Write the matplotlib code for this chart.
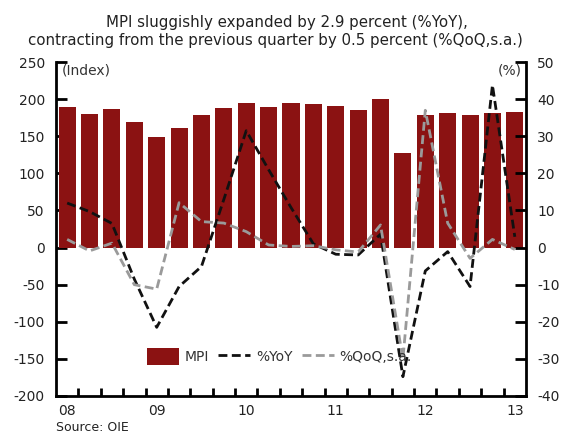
import numpy as np
import matplotlib.pyplot as plt

plt.rcParams["axes.unicode_minus"] = False

# quarterly data, 2008Q1 .. 2013Q1
quarters = ["08Q1", "08Q2", "08Q3", "08Q4", "09Q1", "09Q2", "09Q3", "09Q4",
            "10Q1", "10Q2", "10Q3", "10Q4", "11Q1", "11Q2", "11Q3", "11Q4",
            "12Q1", "12Q2", "12Q3", "12Q4", "13Q1"]
mpi = [190, 180, 187, 169, 149, 161, 178, 188, 194.5, 189, 194.5, 193,
       191, 185, 200, 127, 178, 182, 178, 182, 183]
yoy = [12.0, 9.7, 6.5, -8.5, -21.5, -10.5, -5.1, 13.0, 31.5, 21.0, 10.8, 1.0,
       -1.8, -2.0, 3.6, -34.8, -6.3, -1.1, -10.5, 43.8, 2.9]
qoq = [2.2, -0.9, 1.2, -10.0, -11.2, 12.1, 7.0, 6.6, 4.3, 0.7, 0.3, 0.5,
       -0.6, -1.2, 6.1, -30.0, 37.0, 6.6, -2.9, 2.2, -0.5]
year_labels = ["08", "09", "10", "11", "12", "13"]

title_1 = "MPI sluggishly expanded by 2.9 percent (%YoY),"
title_2 = "contracting from the previous quarter by 0.5 percent (%QoQ,s.a.)"

bar_color = "#8b1212"
x = np.arange(len(quarters))

fig = plt.figure(figsize=(5.82, 4.34), dpi=100)
ax = fig.add_axes([0.0962, 0.0876, 0.8076, 0.7694])
ax2 = ax.twinx()

bars = ax.bar(x, mpi, width=0.76, color=bar_color, label="MPI", zorder=2)
l1, = ax2.plot(x, yoy, color="#111111", lw=2.0, ls=(0, (3.2, 1.6)), label="%YoY")
l2, = ax2.plot(x, qoq, color="#9a9a9a", lw=2.0, ls=(0, (3.2, 1.6)), label="%QoQ,s.a.")

ax.set_xlim(-0.5, len(quarters) - 0.5)
ax.set_ylim(-200, 250)
ax2.set_ylim(-40, 50)
ax.set_yticks(np.arange(-200, 251, 50))
ax2.set_yticks(np.arange(-40, 51, 10))

# year labels under Q1 bars, tick marks at bar boundaries
ax.set_xticks(x[::4])
ax.set_xticklabels(year_labels)
ax.set_xticks(np.arange(0.5, len(quarters) - 0.5, 1), minor=True)
ax.tick_params(axis="x", which="major", length=0, pad=6, labelsize=10, colors="#222222")
ax.tick_params(axis="x", which="minor", direction="in", length=6, width=2, color="black")
ax.tick_params(axis="y", direction="in", length=8, width=2, pad=8, labelsize=10, labelcolor="#222222")
ax2.tick_params(axis="y", direction="in", length=8, width=2, pad=8, labelsize=10, labelcolor="#222222")

for a in (ax, ax2):
    a.spines["top"].set_visible(False)
    for s in ("left", "right", "bottom"):
        a.spines[s].set_linewidth(2)
ax.spines["right"].set_visible(False)
ax2.spines["left"].set_visible(False)
ax2.spines["bottom"].set_visible(False)

ax.text(0.012, 0.995, "(Index)", transform=ax.transAxes, ha="left", va="top",
        fontsize=10, color="#333333")
ax2.text(0.99, 0.995, "(%)", transform=ax2.transAxes, ha="right", va="top",
         fontsize=10, color="#333333")

fig.text(287 / 582, 1 - 22 / 434, title_1, ha="center", va="center",
         fontsize=10.8, color="#222222")
fig.text(275.5 / 582, 1 - 41 / 434, title_2, ha="center", va="center",
         fontsize=10.8, color="#222222")
fig.text(0.0962, 0.0, "Source: OIE", ha="left", va="bottom", fontsize=9,
         color="#222222")

ax2.legend([bars, l1, l2], ["MPI", "%YoY", "%QoQ,s.a."], ncol=3, frameon=False,
           loc="center", bbox_to_anchor=(0.475, 0.118), fontsize=10,
           handlelength=2.3, handleheight=1.5, handletextpad=0.4,
           columnspacing=0.7, labelcolor="#333333")

fig.savefig("out.png", dpi=100)
